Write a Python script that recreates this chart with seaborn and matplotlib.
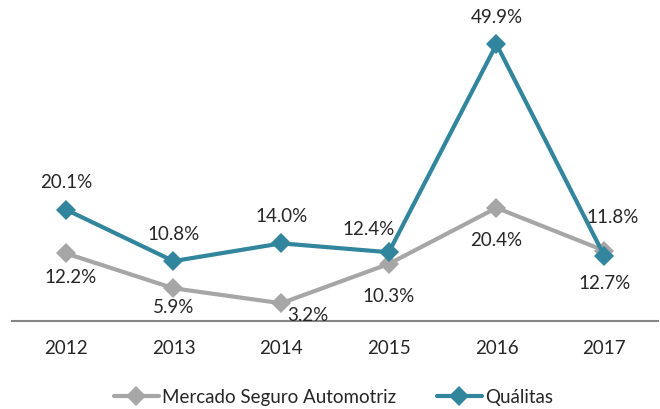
import matplotlib
matplotlib.use("Agg")
import matplotlib.pyplot as plt
import seaborn as sns
import pandas as pd

years = [2012, 2013, 2014, 2015, 2016, 2017]
mercado = [12.2, 5.9, 3.2, 10.3, 20.4, 12.7]
qualitas = [20.1, 10.8, 14.0, 12.4, 49.9, 11.8]
series_names = ["Mercado Seguro Automotriz", "Quálitas"]

# label offsets in pixels (dx, dy) - hand placed like the original
mercado_offsets = [(5, -23), (0, -18), (27, -11), (0, -32), (0, -32), (0, -32)]
qualitas_offsets = [(0, 28), (0, 28), (0, 28), (-20, 24), (0, 28), (8, 39)]

colors = {"Mercado Seguro Automotriz": "#A6A6A6", "Quálitas": "#31859C"}
fs = 13.5

sns.set_style("white")
plt.rcParams["font.family"] = ["Lato", "DejaVu Sans"]

df = pd.DataFrame({
    "year": years * 2,
    "value": mercado + qualitas,
    "serie": [series_names[0]] * len(years) + [series_names[1]] * len(years),
})

fig = plt.figure(figsize=(6.6, 4.1), dpi=100)
ax = fig.add_axes([12 / 660, 1 - 322 / 410, 646 / 660, (322 - 17) / 410])

sns.lineplot(data=df, x="year", y="value", hue="serie", palette=colors,
             style="serie", markers={s: "D" for s in series_names}, dashes=False,
             linewidth=3, markersize=10, markeredgewidth=0, ax=ax, legend=False)

for vals, offs in [(mercado, mercado_offsets), (qualitas, qualitas_offsets)]:
    for x, v, (dx, dy) in zip(years, vals, offs):
        ax.annotate(f"{v:.1f}%", (x, v), xytext=(dx, dy), textcoords="offset pixels",
                    ha="center", va="center", fontsize=fs, color="#262626")

ax.set_xlim(2011.5, 2017.5)
ax.set_ylim(0, 55)
ax.set_xticks(years)
ax.set_xticklabels([str(y) for y in years], fontsize=fs, color="#262626")
ax.tick_params(axis="x", length=0, pad=13)
ax.set_yticks([])
ax.set_xlabel("")
ax.set_ylabel("")
for side in ["left", "right", "top"]:
    ax.spines[side].set_visible(False)
ax.spines["bottom"].set_color("#868686")
ax.spines["bottom"].set_linewidth(1.5)

handles = [plt.Line2D([], [], color=colors[s], lw=3, marker="D", markersize=10,
                      markeredgewidth=0) for s in series_names]
fig.legend(handles, series_names, loc="center", bbox_to_anchor=(0.505, 1 - 398 / 410),
           ncol=2, frameon=False, fontsize=fs, handlelength=2.4, columnspacing=2.2,
           handletextpad=0.15, labelcolor="#262626")

fig.savefig("out.png", dpi=100)
